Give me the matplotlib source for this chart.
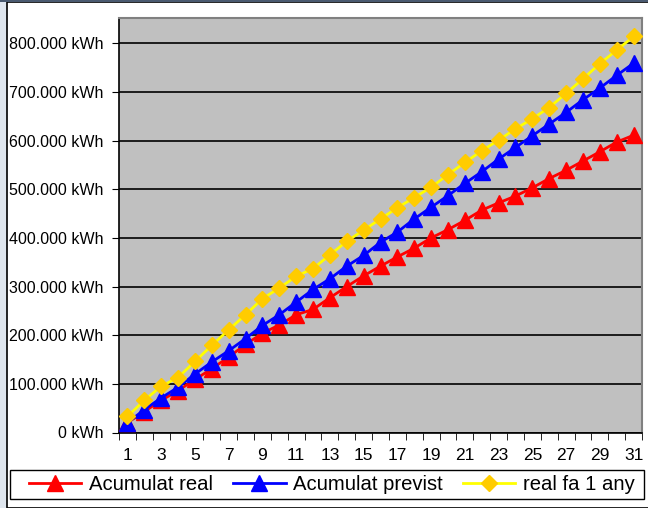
import numpy as np
import matplotlib
matplotlib.use("Agg")
import matplotlib.pyplot as plt
from matplotlib.patches import Rectangle
from matplotlib.lines import Line2D
from matplotlib.ticker import FuncFormatter, MultipleLocator

plt.rcParams['font.family'] = ['Liberation Sans', 'DejaVu Sans']

# dies del mes
dies = np.arange(1, 32)

# acumulat real (kWh)
acumulat_real = [20000, 43000, 66000, 86000, 109000, 131000, 155000, 181000, 204000, 221000,
                 242000, 253000, 277000, 300000, 322000, 342000, 361000, 379000, 400000, 417000,
                 436000, 457000, 472000, 486000, 503000, 522000, 539000, 558000, 577000, 597000,
                 611000]

# acumulat previst (kWh)
acumulat_previst = [20000, 47000, 71000, 93000, 120000, 145000, 168000, 193000, 220000, 242000,
                    268000, 294000, 316000, 342000, 364000, 391000, 412000, 439000, 463000, 487000,
                    512000, 536000, 562000, 586000, 610000, 634000, 658000, 684000, 708000, 734000,
                    759000]

# real fa 1 any (kWh)
real_fa_1_any = [33000, 66000, 95000, 113000, 146000, 179000, 211000, 242000, 275000, 297000,
                 321000, 337000, 365000, 393000, 416000, 439000, 462000, 483000, 504000, 530000,
                 555000, 579000, 601000, 624000, 645000, 668000, 697000, 727000, 758000, 786000,
                 814000]

etiquetes = ['Acumulat real', 'Acumulat previst', 'real fa 1 any']

W, H = 648, 508
fig = plt.figure(figsize=(W / 100, H / 100), dpi=100)
fig.patch.set_facecolor('#dfe6ee')

# fons blanc del grafic amb vora negra
fig.patches.append(Rectangle((7 / W, 0), 1.0, (H - 2) / H, transform=fig.transFigure,
                             facecolor='white', edgecolor='black', linewidth=1.2, zorder=-2))
fig.patches.append(Rectangle((0, (H - 2) / H), 1.0, 2 / H, transform=fig.transFigure,
                             facecolor='#4a5a70', edgecolor='none', zorder=-2))

ax = fig.add_axes([119 / W, (H - 432.5) / H, (642 - 119) / W, (432.5 - 18) / H])
ax.set_zorder(2)
ax.set_facecolor('#c0c0c0')

ax.plot(dies, acumulat_real, color='#ff0000', lw=2, marker='^', ms=11, zorder=3)
ax.plot(dies, acumulat_previst, color='#0000ff', lw=2, marker='^', ms=11, zorder=4)
ax.plot(dies, real_fa_1_any, color='#ffff00', lw=2, marker='D', ms=8.5,
        markerfacecolor='#ffcc00', markeredgecolor='#ffcc00', zorder=5)

ax.set_xlim(0.5, 31.5)
ax.set_ylim(0, 852000)

ax.yaxis.set_major_locator(MultipleLocator(100000))
ax.yaxis.set_major_formatter(FuncFormatter(
    lambda v, p: '0 kWh' if v == 0 else f'{int(v):,} kWh'.replace(',', '.')))
ax.grid(axis='y', color='black', lw=1.2, zorder=1)
ax.set_axisbelow(True)

ax.set_xticks(dies[::2])
ax.set_xticks(np.arange(0.5, 32, 1), minor=True)
ax.tick_params(axis='x', which='major', length=0, pad=11, labelsize=12.5)
ax.tick_params(axis='x', which='minor', length=5, direction='out', color='black')
ax.tick_params(axis='y', length=5, direction='out', pad=6, labelsize=11.5)

for s in ['top', 'right']:
    ax.spines[s].set_color('#808080')
    ax.spines[s].set_linewidth(1.5)
for s in ['left', 'bottom']:
    ax.spines[s].set_color('black')
    ax.spines[s].set_linewidth(1.2)

# llegenda
fig.patches.append(Rectangle((10 / W, (H - 499) / H), 634 / W, 29 / H, transform=fig.transFigure,
                             facecolor='white', edgecolor='black', linewidth=1, zorder=-1))
handles = [
    Line2D([], [], color='#ff0000', lw=2, marker='^', ms=11),
    Line2D([], [], color='#0000ff', lw=2, marker='^', ms=11),
    Line2D([], [], color='#ffff00', lw=2, marker='D', ms=8.5,
           markerfacecolor='#ffcc00', markeredgecolor='#ffcc00'),
]
fig.legend(handles, etiquetes, loc='center', bbox_to_anchor=(331.5 / W, (H - 484.5) / H),
           ncol=3, frameon=False, fontsize=14.6, handlelength=2.6, handletextpad=0.35,
           columnspacing=1.0, borderpad=0, borderaxespad=0)

fig.savefig('out.png', dpi=100)
